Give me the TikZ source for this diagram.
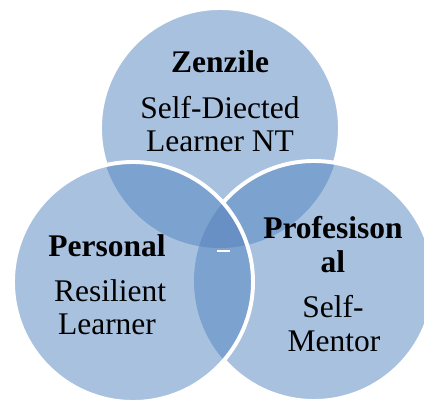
\documentclass[tikz,border=0pt]{standalone}
\usepackage{fontspec}
\setmainfont{Liberation Serif}
\definecolor{ringfill}{HTML}{A8C1DF}
\definecolor{pairfill}{HTML}{7CA2CF}
\definecolor{corefill}{HTML}{6890C5}
\tikzset{
  ring/.style={white, line width=2.8pt},
  word/.style={anchor=base, inner sep=0pt, font=\fontsize{22.4}{24}\selectfont},
  head/.style={anchor=base, inner sep=0pt, font=\fontsize{22.4}{24}\selectfont\bfseries}
}
\begin{document}
\begin{tikzpicture}[x=0.025cm, y=0.025cm]
      \useasboundingbox (0, 0) rectangle (424, 403);
      \clip (0, 0) rectangle (424, 403);
      \coordinate (T) at (220, 275);
      \coordinate (L) at (133, 121);
      \coordinate (R) at (314, 122);

      % top circle
      \fill[ringfill] (T) circle (120);
      \draw[ring] (T) circle (120);

      % right circle
      \fill[ringfill] (R) circle (120);
      \begin{scope}
        \clip (R) circle (120);
        \fill[pairfill] (T) circle (120);
      \end{scope}
      \draw[ring] (R) circle (120);

      % left circle
      \fill[ringfill] (L) circle (120);
      \begin{scope}
        \clip (L) circle (120);
        \fill[pairfill] (T) circle (120);
        \fill[pairfill] (R) circle (120);
        \clip (T) circle (120);
        \fill[corefill] (R) circle (120);
      \end{scope}
      \draw[ring] (L) circle (120);
      \draw[white, line width=2pt] (217, 152) to (230, 152);

      \node[head] (zenzile) at (220, 330){Zenzile};
      \node[word] (selfdir) at (220, 284){Self-Diected};
      \node[word] (learnnt) at (220, 251){Learner NT};

      \node[head] (personal) at (107, 146){Personal};
      \node[word] (resilient) at (110, 101){Resilient};
      \node[word] (learner) at (107, 68){Learner};

      \node[head] (profes) at (333, 164){Profesison};
      \node[head] (profal) at (333, 130){al};
      \node[word] (selfm) at (333, 85){Self-};
      \node[word] (mentor) at (334, 51){Mentor};
    \end{tikzpicture}
\end{document}
